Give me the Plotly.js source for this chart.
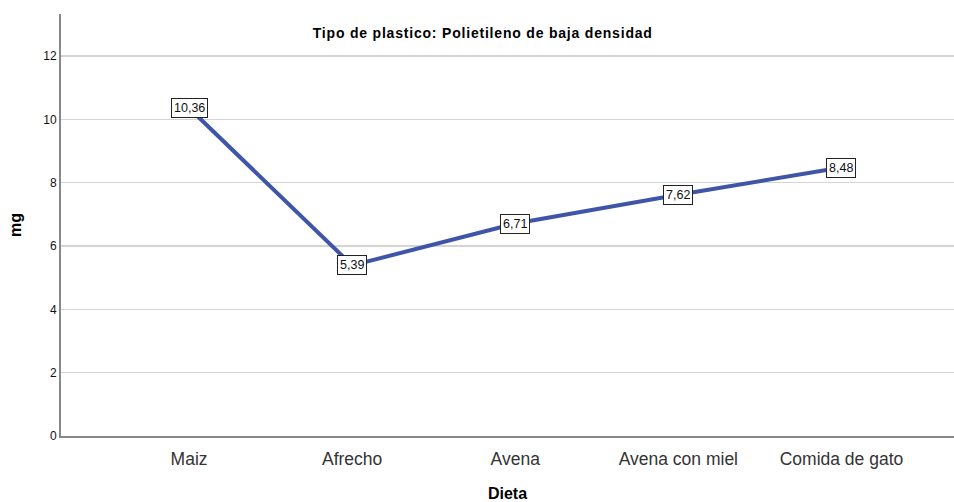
<!DOCTYPE html>
<html>
<head>
<meta charset="utf-8">
<script src="https://cdn.plot.ly/plotly-3.0.1.min.js"></script>
<style>html,body{margin:0;padding:0;background:#fff;}#chart{width:954px;height:502px;} .gtitle{letter-spacing:0.8px;}</style>
</head>
<body>
<div id="chart"></div>
<script>
const categories = ["Maiz", "Afrecho", "Avena", "Avena con miel", "Comida de gato"];
const values = [10.36, 5.39, 6.71, 7.62, 8.48];
const labels = ["10,36", "5,39", "6,71", "7,62", "8,48"];
const yTicks = [0, 2, 4, 6, 8, 10, 12];

const FONT = "Liberation Sans, Arial, sans-serif";

const trace = {
  x: categories,
  y: values,
  type: "scatter",
  mode: "lines",
  line: {color: "#3f56a8", width: 4},
  hoverinfo: "skip"
};

const annotations = categories.map((c, i) => ({
  x: c, y: values[i], xref: "x", yref: "y",
  text: labels[i], showarrow: false,
  bgcolor: "#ffffff", bordercolor: "#222222", borderwidth: 1, borderpad: 2,
  font: {family: FONT, size: 12.5, color: "#111"}
}));

const layout = {
  width: 954, height: 502,
  margin: {l: 61, r: 0, t: 14, b: 66},
  paper_bgcolor: "#ffffff", plot_bgcolor: "#ffffff",
  showlegend: false,
  title: {
    text: "<b>Tipo de plastico: Polietileno de baja densidad</b>",
    font: {family: FONT, size: 14, color: "#000"},
    x: 0.506, xanchor: "center", y: 0.935, yanchor: "middle"
  },
  xaxis: {
    type: "category",
    range: [-0.785, 4.69],
    showgrid: false, zeroline: false,
    showline: true, linecolor: "#888888", linewidth: 2,
    ticks: "", ticklabelstandoff: 6,
    tickfont: {family: FONT, size: 17.5, color: "#333"},
    title: {text: "<b>Dieta</b>", font: {family: FONT, size: 16, color: "#000"}, standoff: 20}
  },
  yaxis: {
    range: [0, 13.33],
    tickvals: yTicks, ticktext: yTicks.map(String),
    showgrid: true, gridcolor: "#d4d4d4", gridwidth: 1.5,
    zeroline: false,
    showline: true, linecolor: "#888888", linewidth: 2,
    ticks: "", ticklen: 0,
    tickfont: {family: FONT, size: 12, color: "#111"},
    title: {text: "<b>mg</b>", font: {family: FONT, size: 16, color: "#000"}, standoff: 18}
  },
  annotations: annotations
};

Plotly.newPlot("chart", [trace], layout, {displayModeBar: false, staticPlot: true});
</script>
</body>
</html>
